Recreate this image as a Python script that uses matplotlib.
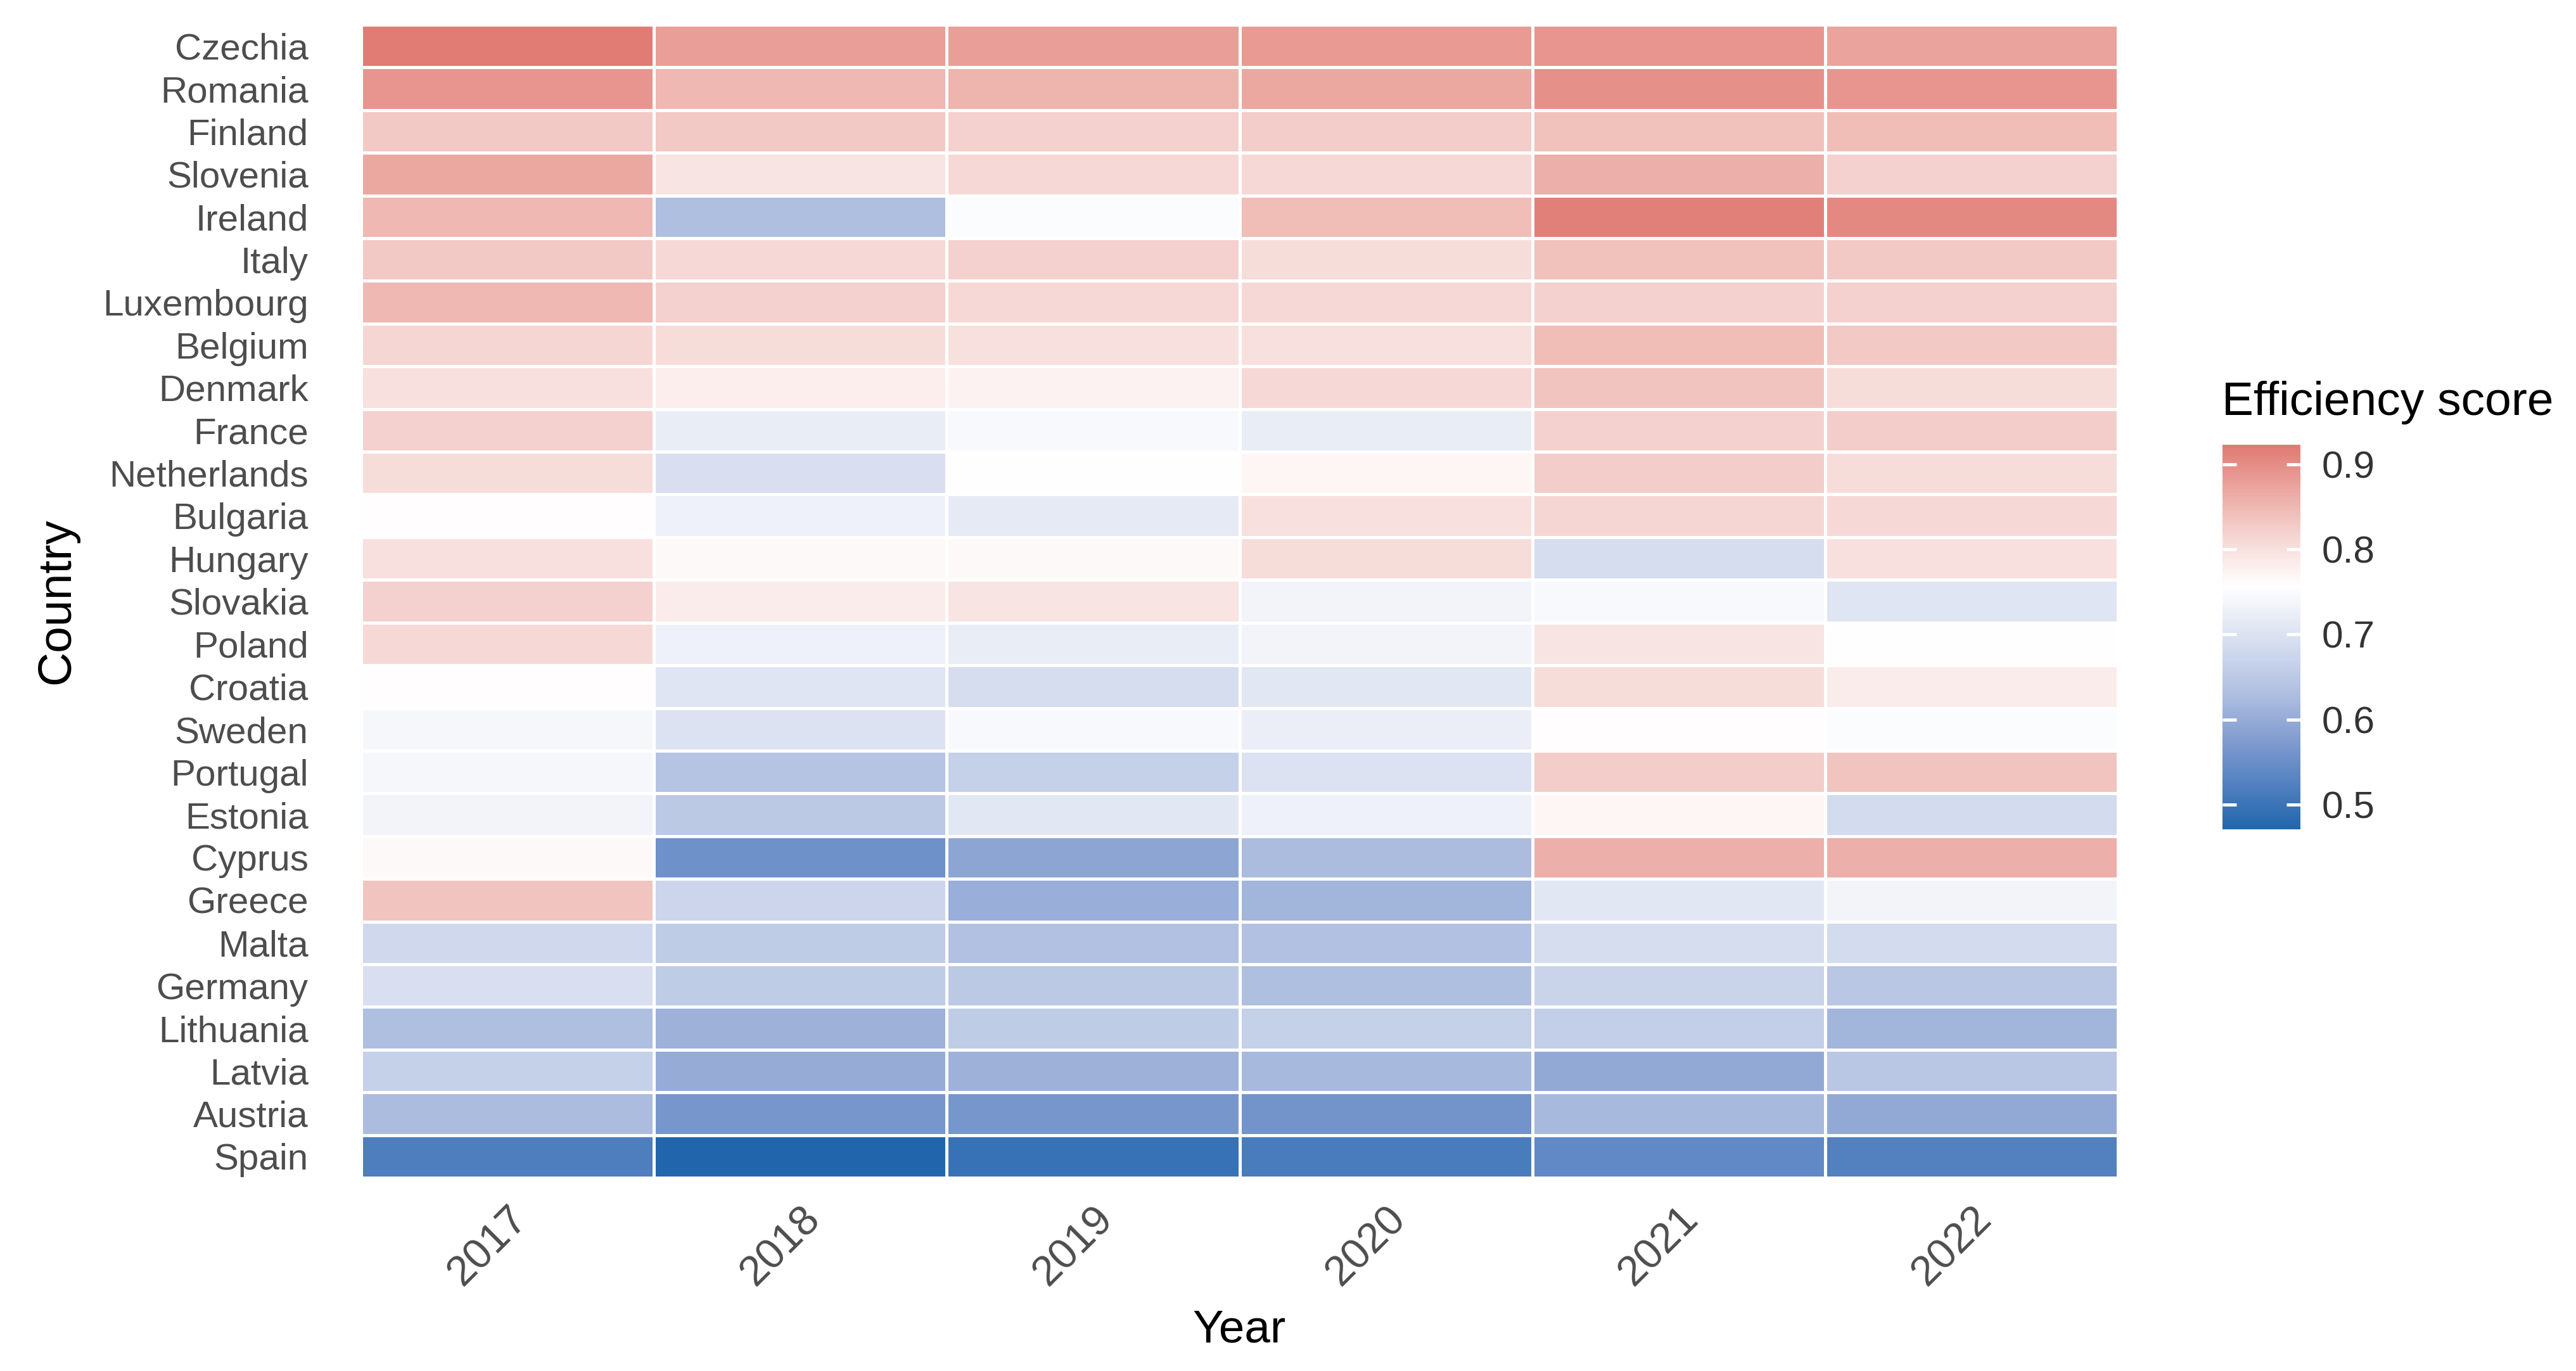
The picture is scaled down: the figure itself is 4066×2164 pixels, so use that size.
import numpy as np
import matplotlib
matplotlib.use("Agg")
import matplotlib.pyplot as plt
from matplotlib.colors import LinearSegmentedColormap, Normalize

plt.rcParams["font.family"] = ["Liberation Sans", "DejaVu Sans"]

countries = ["Czechia", "Romania", "Finland", "Slovenia", "Ireland", "Italy",
             "Luxembourg", "Belgium", "Denmark", "France", "Netherlands",
             "Bulgaria", "Hungary", "Slovakia", "Poland", "Croatia", "Sweden",
             "Portugal", "Estonia", "Cyprus", "Greece", "Malta", "Germany",
             "Lithuania", "Latvia", "Austria", "Spain"]
years = ["2017", "2018", "2019", "2020", "2021", "2022"]

score_2017 = [0.92, 0.89, 0.83, 0.87, 0.85, 0.83, 0.85, 0.815, 0.80, 0.82, 0.805,
              0.76, 0.80, 0.82, 0.81, 0.76, 0.74, 0.74, 0.735, 0.765, 0.835,
              0.68, 0.695, 0.63, 0.665, 0.625, 0.52]
score_2018 = [0.88, 0.85, 0.83, 0.795, 0.63, 0.81, 0.82, 0.805, 0.78, 0.72, 0.695,
              0.73, 0.765, 0.785, 0.73, 0.705, 0.70, 0.64, 0.65, 0.555, 0.675,
              0.655, 0.655, 0.61, 0.60, 0.565, 0.47]
score_2019 = [0.88, 0.855, 0.82, 0.81, 0.75, 0.82, 0.81, 0.80, 0.775, 0.745, 0.755,
              0.715, 0.765, 0.795, 0.72, 0.69, 0.745, 0.665, 0.71, 0.59, 0.605,
              0.635, 0.65, 0.655, 0.61, 0.565, 0.495]
score_2020 = [0.885, 0.87, 0.825, 0.81, 0.845, 0.805, 0.81, 0.80, 0.81, 0.72, 0.77,
              0.80, 0.805, 0.735, 0.735, 0.71, 0.725, 0.70, 0.73, 0.625, 0.615,
              0.635, 0.63, 0.665, 0.62, 0.56, 0.515]
score_2021 = [0.89, 0.895, 0.84, 0.86, 0.915, 0.84, 0.82, 0.845, 0.835, 0.82, 0.825,
              0.815, 0.69, 0.745, 0.795, 0.805, 0.76, 0.825, 0.77, 0.86, 0.71,
              0.69, 0.67, 0.66, 0.595, 0.62, 0.54]
score_2022 = [0.875, 0.89, 0.845, 0.82, 0.905, 0.83, 0.82, 0.83, 0.805, 0.825, 0.805,
              0.81, 0.80, 0.705, 0.755, 0.785, 0.75, 0.835, 0.685, 0.86, 0.735,
              0.685, 0.645, 0.615, 0.645, 0.595, 0.525]

legend_ticks = [0.5, 0.6, 0.7, 0.8, 0.9]

data = np.array([score_2017, score_2018, score_2019, score_2020, score_2021, score_2022]).T

vmin, vmax, vmid = 0.471, 0.923, 0.757
def f(v):
    return (v - vmin) / (vmax - vmin)

cmap = LinearSegmentedColormap.from_list("eff", [
    (0.0, "#2166AC"),
    (f(0.53), "#5884C2"),
    (f(0.58), "#859FD0"),
    (f(0.63), "#AFBFE0"),
    (f(0.69), "#D6DDEF"),
    (f(vmid), "#FFFFFF"),
    (f(0.81), "#F6DAD7"),
    (f(0.86), "#EDB0AA"),
    (1.0, "#E07A72"),
])
norm = Normalize(vmin=vmin, vmax=vmax)

W, H, DPI = 4066, 2164, 300
fig = plt.figure(figsize=(W / DPI, H / DPI), dpi=DPI)
ax = fig.add_axes([570 / W, 1 - 1859 / H, (3343 - 570) / W, (1859 - 39) / H])

n = len(countries)
x_edges = np.arange(len(years) + 1)
y_edges = np.arange(n + 1)
ax.pcolormesh(x_edges, y_edges, data[::-1], cmap=cmap, norm=norm,
              edgecolors="white", linewidth=0.8)
ax.set_xlim(0, len(years))
ax.set_ylim(0, n)
ax.set_yticks(np.arange(n) + 0.5)
ax.set_yticklabels(countries[::-1], fontsize=14, color="#4D4D4D")
ax.set_xticks(np.arange(len(years)) + 0.5)
ax.set_xticklabels(years, fontsize=16, color="#4D4D4D", rotation=45,
                   ha="right", va="top", rotation_mode="anchor")
ax.tick_params(axis="y", length=0, pad=20)
ax.tick_params(axis="x", length=0, pad=8)
for s in ax.spines.values():
    s.set_visible(False)
ax.set_xlabel("Year", fontsize=17.5, color="black", labelpad=6)
ax.set_ylabel("Country", fontsize=18, color="black", labelpad=9)

cax = fig.add_axes([3508 / W, 1 - 1309 / H, 123 / W, (1309 - 702) / H])
sm = matplotlib.cm.ScalarMappable(norm=norm, cmap=cmap)
cb = fig.colorbar(sm, cax=cax)
cb.outline.set_visible(False)
cb.set_ticks(legend_ticks)
cb.set_ticklabels([f"{t:.1f}" for t in legend_ticks])
cax.tick_params(length=0, labelsize=14.5, colors="#333333", pad=8)
for t in legend_ticks:
    cax.hlines(t, 0, 0.18, colors="white", linewidth=1.2, transform=cax.get_yaxis_transform())
    cax.hlines(t, 0.82, 1, colors="white", linewidth=1.2, transform=cax.get_yaxis_transform())
fig.text(3507 / W, 1 - 655 / H, "Efficiency score", fontsize=18, ha="left", va="baseline")

fig.savefig("out.png", dpi=DPI, facecolor="white")
